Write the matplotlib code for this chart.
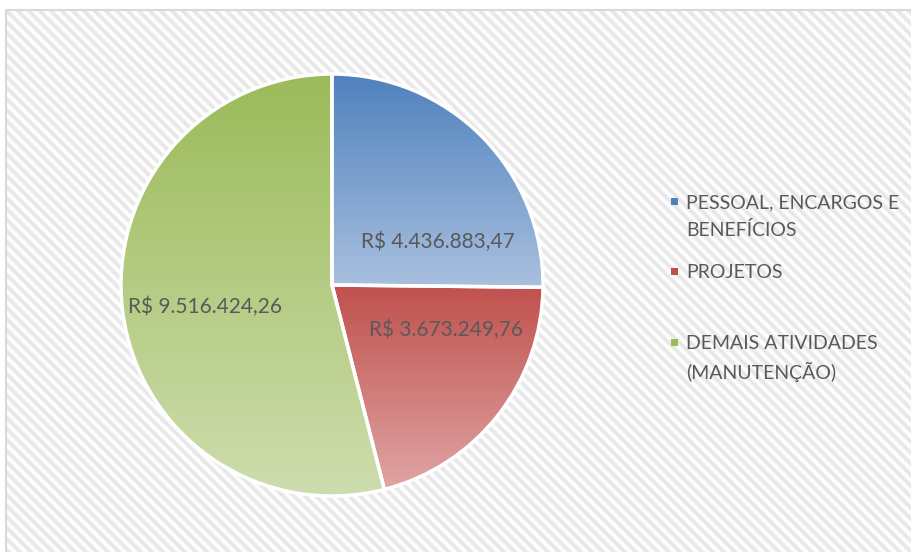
import numpy as np
import matplotlib
matplotlib.use("Agg")
import matplotlib.pyplot as plt
from matplotlib.patches import Rectangle
from matplotlib.colors import LinearSegmentedColormap

categories = ["PESSOAL, ENCARGOS E\nBENEFÍCIOS", "PROJETOS", "DEMAIS ATIVIDADES\n(MANUTENÇÃO)"]
values = [4436883.47, 3673249.76, 9516424.26]
value_labels = ["R$ 4.436.883,47", "R$ 3.673.249,76", "R$ 9.516.424,26"]
dark_colors = ["#4F81BD", "#C0504D", "#9BBB59"]
light_colors = ["#A9C0DF", "#DFA5A4", "#CEDDAE"]

FONT = ["Lato", "DejaVu Sans"]
TXT = "#595959"

W, H = 912, 552
fig = plt.figure(figsize=(W / 100, H / 100), dpi=100)
fig.patch.set_facecolor("white")

# striped background panel
bg = fig.add_axes([6 / W, 0, 1 - 6 / W, (H - 10) / H])
bg.set_axis_off()
yy, xx = np.mgrid[0:542, 0:906]
stripe = 0.5 + 0.5 * np.cos(2 * np.pi * (xx - yy) / 11.0)
bg.imshow(stripe, cmap=LinearSegmentedColormap.from_list("s", ["#FFFFFF", "#E6E6E6"]),
          extent=[0, 1, 0, 1], aspect="auto", interpolation="bilinear")
bg.set_xlim(0, 1)
bg.set_ylim(0, 1)
fig.add_artist(Rectangle((6 / W, -0.01), 1.0, (H - 10) / H + 0.01, transform=fig.transFigure,
                         fill=False, edgecolor="#D9D9D9", linewidth=1.5))

# pie
cx, cy, r = 332, 285, 211
ax = fig.add_axes([(cx - r) / W, (H - cy - r) / H, 2 * r / W, 2 * r / H])
ax.set_axis_off()
wedges, _ = ax.pie(values, startangle=90, counterclock=False, radius=1,
                   wedgeprops=dict(edgecolor="white", linewidth=2.5, facecolor="none"))
for w, c0, c1 in zip(wedges, dark_colors, light_colors):
    w.set_zorder(3)
    v = w.get_path().vertices
    x0, x1 = v[:, 0].min(), v[:, 0].max()
    y0, y1 = v[:, 1].min(), v[:, 1].max()
    grad = np.linspace(0, 1, 256).reshape(-1, 1)
    cmap = LinearSegmentedColormap.from_list("g", [c0, c1])
    im = ax.imshow(grad, cmap=cmap, extent=[x0, x1, y0, y1], aspect="auto",
                   interpolation="bilinear", zorder=2, origin="upper")
    im.set_clip_path(w)
ax.set_xlim(-1, 1)
ax.set_ylim(-1, 1)

# data labels (polar position within pie: radius fraction, angle deg)
label_pos = [(0.54, 22.3), (0.58, -21.5), (0.61, -170.0)]
for txt, (rr, ang) in zip(value_labels, label_pos):
    a = np.deg2rad(ang)
    ax.text(rr * np.cos(a), rr * np.sin(a), txt, ha="center", va="center",
            fontsize=15, color=TXT, family=FONT, zorder=5)

# legend
leg_y = [201, 271, 342]
for cat, col, y in zip(categories, dark_colors, leg_y):
    fig.add_artist(Rectangle(((671) / W, (H - y - 4) / H), 7 / W, 7 / H,
                             transform=fig.transFigure, facecolor=col, edgecolor="none"))
    for i, line in enumerate(cat.split("\n")):
        fig.text(686 / W, (H - y - 28 * i) / H, line, ha="left", va="center_baseline",
                 fontsize=14, color=TXT, family=FONT)

fig.savefig("out.png", dpi=100)
